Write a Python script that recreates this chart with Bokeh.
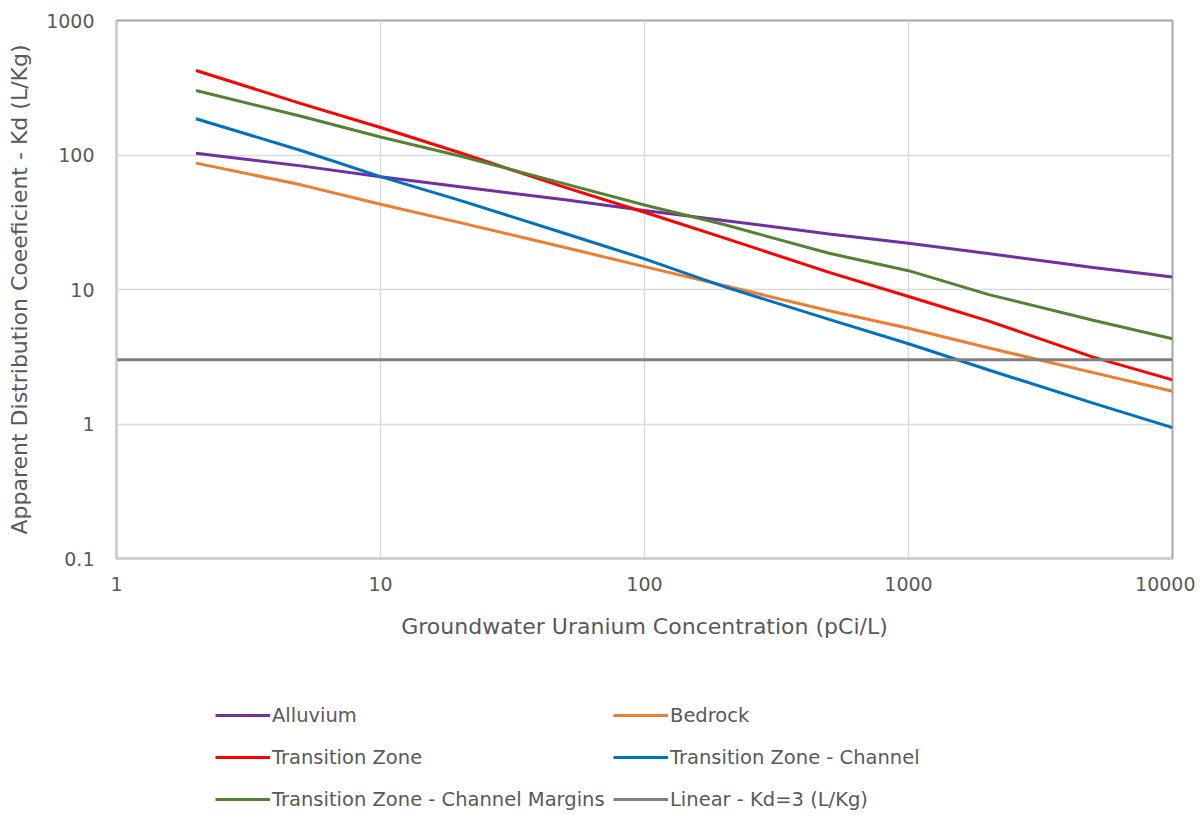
from bokeh.plotting import figure
from bokeh.layouts import column
from bokeh.models import Legend, LegendItem, FixedTicker, Range1d
from bokeh.embed import file_html
from bokeh.resources import INLINE

# ---- data ----
conc = [2, 5, 10, 20, 50, 100, 200, 500, 1000, 2000, 5000, 10000]
alluvium = [103, 83, 69, 58, 46.5, 38.7, 32.6, 25.9, 22.1, 18.5, 14.6, 12.4]
bedrock = [87, 60, 43, 31.4, 20.5, 14.8, 10.7, 6.95, 5.15, 3.69, 2.41, 1.75]
transition_zone = [425, 241, 160, 104, 57.4, 37.5, 24.2, 13.4, 8.87, 5.85, 3.14, 2.13]
tz_channel = [186, 108, 69, 46, 26.1, 16.9, 10.5, 6.0, 3.95, 2.53, 1.43, 0.94]
tz_margins = [302, 194, 136, 98.4, 61, 42.5, 30.4, 18.6, 13.8, 9.2, 5.9, 4.3]
linear_x = [1, 10000]
linear_kd = [3, 3]

x_ticks = [1, 10, 100, 1000, 10000]
x_tick_labels = ["1", "10", "100", "1000", "10000"]
y_ticks = [0.1, 1, 10, 100, 1000]
y_tick_labels = ["0.1", "1", "10", "100", "1000"]

names = ["Alluvium", "Bedrock", "Transition Zone", "Transition Zone - Channel",
         "Transition Zone - Channel Margins", "Linear - Kd=3 (L/Kg)"]
colors = ["#7030A0", "#ED7D31", "#FF0000", "#0070C0", "#548235", "#7F7F7F"]

FONT = "DejaVu Sans"
TXT = "#595959"

# ---------------- main chart ----------------
p = figure(width=1195, height=672, x_axis_type="log", y_axis_type="log",
           x_range=(1, 10000), y_range=(0.1, 1000),
           output_backend="svg", toolbar_location=None,
           min_border_left=116, min_border_right=23, min_border_top=20,
           min_border_bottom=114)

p.outline_line_color = "#a6a6a6"
p.outline_line_width = 2
p.background_fill_color = "white"
p.border_fill_color = "white"

p.xgrid.grid_line_color = "#d9d9d9"
p.ygrid.grid_line_color = "#d9d9d9"
p.xgrid.grid_line_width = 1.3
p.ygrid.grid_line_width = 1.3

p.xaxis.ticker = FixedTicker(ticks=x_ticks, minor_ticks=[])
p.yaxis.ticker = FixedTicker(ticks=y_ticks, minor_ticks=[])
p.xaxis.major_label_overrides = {t: l for t, l in zip(x_ticks, x_tick_labels)}
p.yaxis.major_label_overrides = {t: l for t, l in zip(y_ticks, y_tick_labels)}

for ax in (p.xaxis, p.yaxis):
    ax.major_tick_line_color = None
    ax.minor_tick_line_color = None
    ax.major_tick_out = 0
    ax.major_tick_in = 0
    ax.axis_line_color = "#d0d0d0"
    ax.axis_line_width = 1.5
    ax.major_label_text_font = FONT
    ax.major_label_text_font_size = "19px"
    ax.major_label_text_color = TXT
    ax.axis_label_text_font = FONT
    ax.axis_label_text_font_size = "22px"
    ax.axis_label_text_color = TXT
    ax.axis_label_text_font_style = "normal"

p.xaxis.axis_label = "Groundwater Uranium Concentration (pCi/L)"
p.yaxis.axis_label = "Apparent Distribution Coeeficient - Kd (L/Kg)"
p.xaxis.major_label_standoff = 18
p.xaxis.axis_label_standoff = 20
p.yaxis.major_label_standoff = 22
p.yaxis.axis_label_standoff = 11

series = [alluvium, bedrock, transition_zone, tz_channel, tz_margins]
for ys, c in zip(series, colors[:5]):
    p.line(conc, ys, line_color=c, line_width=3)
p.line(linear_x, linear_kd, line_color=colors[5], line_width=3)

# ---------------- legend strip ----------------
lg = figure(width=1195, height=140, output_backend="svg", toolbar_location=None,
            x_range=Range1d(0, 1), y_range=Range1d(0, 1),
            min_border=0, min_border_left=0, min_border_right=0,
            min_border_top=0, min_border_bottom=0)
lg.axis.visible = False
lg.grid.visible = False
lg.outline_line_color = None

leg_renderers = []
for ys, c in zip(series, colors[:5]):
    leg_renderers.append(lg.line(conc, ys, line_color=c, line_width=3, visible=False))
leg_renderers.append(lg.line(linear_x, linear_kd, line_color=colors[5], line_width=3,
                             visible=False))

def make_legend(idx, xoff):
    items = [LegendItem(label=names[i], renderers=[leg_renderers[i]]) for i in idx]
    return Legend(items=items, location=(xoff, 1), orientation="vertical",
                  glyph_width=55, glyph_height=24, label_height=24,
                  label_standoff=2, spacing=18, padding=0, margin=0,
                  border_line_color=None, background_fill_alpha=0,
                  inactive_fill_alpha=0,
                  label_text_font=FONT, label_text_font_size="19.5px",
                  label_text_color=TXT)

# the legend strip's frame is aligned with the chart frame (left edge at 116px)
lg.add_layout(make_legend([0, 2, 4], 99), "center")
lg.add_layout(make_legend([1, 3, 5], 497), "center")

layout = column(p, lg, spacing=0)
open("out.html", "w").write(file_html(layout, INLINE))
